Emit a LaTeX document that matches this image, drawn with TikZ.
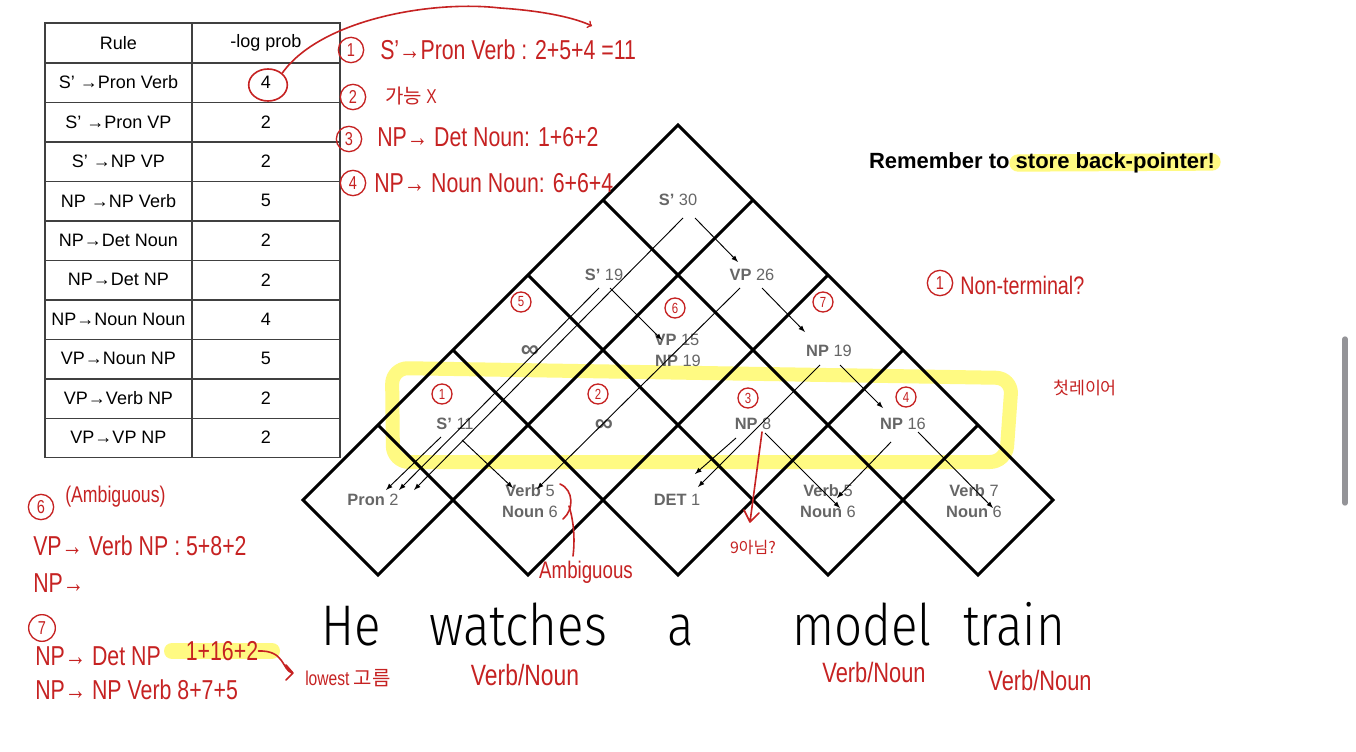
\documentclass[tikz,border=0pt]{standalone}
\usepackage{fontspec}
\setmainfont{Liberation Sans}
\newfontfamily\handfont{Liberation Sans}[FakeStretch=0.78]
\newfontfamily\krfont{Noto Sans CJK KR}
\newfontfamily\thinfont{Fira Sans Light}[FakeStretch=0.86]
\usepackage{tikz}
\usetikzlibrary{arrows}
\usetikzlibrary{positioning,shapes}

\definecolor{penred}{RGB}{198,34,34}
\definecolor{cellgray}{RGB}{102,102,102}
\definecolor{hlyellow}{RGB}{255,250,130}
\definecolor{bargray}{RGB}{148,148,152}

\tikzset{
  chartline/.style={line width=2.3pt},
  cellnum/.style={text=cellgray,inner sep=0pt,font=\fontsize{12.3}{14}\selectfont},
  backptr/.style={-latex,line width=0.7pt},
  tabcell/.style={inner sep=0pt,font=\fontsize{13.5}{16}\selectfont},
  pen/.style={text=penred,inner sep=0pt,anchor=west,font=\handfont\fontsize{20.5}{24}\selectfont},
  penline/.style={draw=penred,line width=1.2pt,line cap=round,line join=round},
  pennum/.style={circle,draw=penred,line width=1pt,text=penred,inner sep=0pt,minimum size=15pt,font=\handfont\fontsize{11}{12}\selectfont},
  marker/.style={draw=hlyellow,line cap=round,line join=round},
  word/.style={inner sep=0pt,anchor=base,font=\thinfont\fontsize{43}{50}\selectfont}
}

\begin{document}
\begin{tikzpicture}[x=0.75pt,y=-0.75pt,node distance=29.6pt]
  \fill[white] (0,0) rectangle (1356,752);
  \useasboundingbox (0,0) rectangle (1356,752);

  % highlighter goes first, chart lies on top of it
  \draw[marker,line width=10.5pt,rounded corners=12pt]
    (393,462) -- (392,368) -- (1012,378) -- (1006,462) -- cycle;
  \draw[marker,line width=13pt] (1018,163) -- (1212,162);
  \draw[marker,line width=12pt] (172,651) -- (272,651);

  % rule table
  \draw[line width=0.8pt,black!75]
    (45,23) rectangle (340,457.5) (192,23) -- (192,457.5)
    (45,63) -- (340,63) (45,102.5) -- (340,102.5) (45,142) -- (340,142)
    (45,181.5) -- (340,181.5) (45,221) -- (340,221) (45,260.5) -- (340,260.5)
    (45,300) -- (340,300) (45,339.5) -- (340,339.5) (45,379) -- (340,379)
    (45,418.5) -- (340,418.5);
  \node[tabcell] (rule) at (118.5,43) {Rule};
  \node[tabcell] (cost) at (266,43) {-log prob};
  \node[tabcell] (r1) [below of=rule] {S’ →Pron Verb};
  \node[tabcell] (r2) [below of=r1] {S’ →Pron VP};
  \node[tabcell] (r3) [below of=r2] {S’ →NP VP};
  \node[tabcell] (r4) [below of=r3] {NP →NP Verb};
  \node[tabcell] (r5) [below of=r4] {NP→Det Noun};
  \node[tabcell] (r6) [below of=r5] {NP→Det NP};
  \node[tabcell] (r7) [below of=r6] {NP→Noun Noun};
  \node[tabcell] (r8) [below of=r7] {VP→Noun NP};
  \node[tabcell] (r9) [below of=r8] {VP→Verb NP};
  \node[tabcell] (r10) [below of=r9] {VP→VP NP};
  \node[tabcell] (c1) [below of=cost] {4};
  \node[tabcell] (c2) [below of=c1] {2};
  \node[tabcell] (c3) [below of=c2] {2};
  \node[tabcell] (c4) [below of=c3] {5};
  \node[tabcell] (c5) [below of=c4] {2};
  \node[tabcell] (c6) [below of=c5] {2};
  \node[tabcell] (c7) [below of=c6] {4};
  \node[tabcell] (c8) [below of=c7] {5};
  \node[tabcell] (c9) [below of=c8] {2};
  \node[tabcell] (c10) [below of=c9] {2};

  % CKY chart
  \draw[chartline,miter limit=4]
    (678,125) -- (1053,500) -- (978,575) -- (903,500) -- (828,575) -- (753,500)
    -- (678,575) -- (603,500) -- (528,575) -- (453,500) -- (378,575) -- (303,500) -- cycle;
  \draw[chartline]
    (753,200) -- (453,500) (828,275) -- (603,500) (903,350) -- (753,500) (978,425) -- (903,500)
    (603,200) -- (903,500) (528,275) -- (753,500) (453,350) -- (603,500) (378,425) -- (453,500);

  \node[cellnum] (s30) at (678,200) {\textbf{S’} 30};
  \node[cellnum] (s19) at (604,275) {\textbf{S’} 19};
  \node[cellnum] (vp26) at (752,275) {\textbf{VP} 26};
  \node[cellnum,font=\bfseries\fontsize{19}{20}\selectfont] (inf5) at (530,352) {∞};
  \node[cellnum] (vp15) at (677,340) {\textbf{VP} 15};
  \node[cellnum] (np19b) at (678,361) {\textbf{NP} 19};
  \node[cellnum] (np19) at (829,351) {\textbf{NP} 19};
  \node[cellnum] (s11) at (455,424) {\textbf{S’} 11};
  \node[cellnum,font=\bfseries\fontsize{19}{20}\selectfont] (inf2) at (604,426) {∞};
  \node[cellnum] (np8) at (753,424) {\textbf{NP} 8};
  \node[cellnum] (np16) at (903,424) {\textbf{NP} 16};
  \node[cellnum] (pron) at (373,500) {\textbf{Pron} 2};
  \node[cellnum] (verbw) at (530,491) {\textbf{Verb} 5};
  \node[cellnum] (nounw) at (530,512) {\textbf{Noun} 6};
  \node[cellnum] (det) at (677,500) {\textbf{DET} 1};
  \node[cellnum] (verbm) at (828,491) {\textbf{Verb} 5};
  \node[cellnum] (nounm) at (828,512) {\textbf{Noun} 6};
  \node[cellnum] (verbt) at (974,491) {\textbf{Verb} 7};
  \node[cellnum] (nount) at (974,512) {\textbf{Noun} 6};

  % back-pointers
  \draw[backptr] ([shift={(5,18)}]s30.center) -- ([shift={(41,-10)}]pron.center);
  \draw[backptr] ([shift={(17,18)}]s30.center) -- ([shift={(-14,-13)}]vp26.center);
  \draw[backptr] ([shift={(-5,13)}]s19.center) -- ([shift={(26,-10)}]pron.center);
  \draw[backptr] ([shift={(6,13)}]s19.center) -- ([shift={(-15,0)}]vp15.center);
  \draw[backptr] ([shift={(-12,13)}]vp26.center) -- ([shift={(7,-2)}]verbw.center);
  \draw[backptr] ([shift={(10,13)}]vp26.center) -- ([shift={(-24,-19)}]np19.center);
  \draw[backptr] ([shift={(-9,14)}]np19.center) -- ([shift={(21,-13)}]det.center);
  \draw[backptr] ([shift={(11,14)}]np19.center) -- ([shift={(-20,-16)}]np16.center);
  \draw[backptr] ([shift={(-14,13)}]s11.center) -- ([shift={(13,-10)}]pron.center);
  \draw[backptr] ([shift={(7,16)}]s11.center) -- ([shift={(-17,-3)}]verbw.center);
  \draw[backptr] ([shift={(-17,14)}]np8.center) -- ([shift={(18,-26)}]det.center);
  \draw[backptr] ([shift={(12,9)}]np8.center) -- ([shift={(12,-4)}]nounm.center);
  \draw[backptr] ([shift={(-12,18)}]np16.center) -- ([shift={(9,7)}]verbm.center);
  \draw[backptr] ([shift={(15,8)}]np16.center) -- ([shift={(19,-4)}]nount.center);

  \node[font=\bfseries\fontsize{16.5}{20}\selectfont,inner sep=0pt] (remind) at (1042,163) {Remember to store back-pointer!};

  % the sentence
  \node[word] (he) at (351,645) {He};
  \node[word] (watches) at (518,645) {watches};
  \node[word] (a) at (681,645) {a};
  \node[word] (model) at (862,645) {model};
  \node[word] (train) at (1014,645) {train};

  \draw[line width=4pt,bargray,line cap=round] (1345,339) -- (1345,503);

  % red notes
  \node[draw=penred,line width=1.2pt,ellipse,minimum width=29pt,minimum height=24pt] (ring4) at (268,85) {};
  \coordinate (tip1) at (592,26);
  \draw[penline,->] (ring4.north east) .. controls (320,20) and (430,0) .. (500,8)
    .. controls (545,11) and (575,18) .. (tip1);

  \node[pennum,minimum size=19pt,font=\handfont\fontsize{14}{16}\selectfont] (q1) at (351,50) {1};
  \node[pen] (t1) at (380,50) {S’→Pron Verb : 2+5+4 =11};
  \node[pennum,minimum size=19pt,font=\handfont\fontsize{14}{16}\selectfont] (q2) at (353,97) {2};
  \node[pen,font=\handfont\fontsize{15}{18}\selectfont] (t2) at (385,96) {{\krfont 가능} X};
  \node[pennum,minimum size=19pt,font=\handfont\fontsize{14}{16}\selectfont] (q3) at (349,139) {3};
  \node[pen] (t3) at (377,137) {NP→ Det Noun: 1+6+2};
  \node[pennum,minimum size=19pt,font=\handfont\fontsize{14}{16}\selectfont] (q4) at (353,183) {4};
  \node[pen] (t4) at (374,183) {NP→ Noun Noun: 6+6+4};

  \node[pennum,minimum size=19pt,font=\handfont\fontsize{14}{16}\selectfont] (qn) at (940,283) {1};
  \node[pen,font=\handfont\fontsize{19}{22}\selectfont] (tn) at (960,285) {Non-terminal?};
  \node[text=penred,inner sep=0pt,font=\krfont\fontsize{13}{15}\selectfont] (layer) at (1085,388) {첫레이어};

  \node[pennum] (g1) at (442,394) {1};
  \node[pennum] (g2) at (598,394) {2};
  \node[pennum] (g3) at (748,398) {3};
  \node[pennum] (g4) at (906,397) {4};
  \node[pennum] (g5) at (521,302) {5};
  \node[pennum] (g6) at (675,308) {6};
  \node[pennum] (g7) at (823,302) {7};

  \draw[penline] (560,484) .. controls (574,490) and (574,510) .. (563,519);
  \draw[penline] (569,506) .. controls (574,522) and (575,540) .. (573,556);
  \node[pen,anchor=center,font=\handfont\fontsize{18}{20}\selectfont] (amb) at (586,572) {Ambiguous};
  \draw[penline] ([shift={(9,8)}]np8.center) -- (750,522) (744,510) -- (750,522) -- (759,513);
  \node[text=penred,inner sep=0pt,font=\krfont\fontsize{12}{14}\selectfont] (nine) at (753,548) {9아님?};

  \node[pennum,minimum size=19pt,font=\handfont\fontsize{14}{16}\selectfont] (q6) at (41,507) {6};
  \node[pen,font=\handfont\fontsize{17}{20}\selectfont] (t6) at (65,497) {(Ambiguous)};
  \node[pen] (t6a) at (33,546) {VP→ Verb NP : 5+8+2};
  \node[pen] (t6b) at (33,583) {NP→};
  \node[pennum,minimum size=20pt,font=\handfont\fontsize{14}{16}\selectfont] (q7) at (42,628) {7};
  \node[pen] (t7a) at (35,656) {NP→ Det NP};
  \node[pen,anchor=center] (t7s) at (222,651) {1+16+2};
  \node[pen] (t7b) at (35,690) {NP→ NP Verb  8+7+5};
  \draw[penline] (t7s.east) .. controls (285,650) and (282,670) .. (292,673)
    (286,665) -- (293,673) -- (286,680);
  \node[pen,font=\handfont\fontsize{15}{18}\selectfont] (low) at (305,678) {lowest {\krfont 고름}};

  \node[pen,anchor=center,font=\handfont\fontsize{22}{24}\selectfont] (vn1) at (525,675) {Verb/Noun};
  \node[pen,anchor=center,font=\handfont\fontsize{21}{24}\selectfont] (vn2) at (874,672) {Verb/Noun};
  \node[pen,anchor=center,font=\handfont\fontsize{21}{24}\selectfont] (vn3) at (1040,680) {Verb/Noun};
\end{tikzpicture}
\end{document}
